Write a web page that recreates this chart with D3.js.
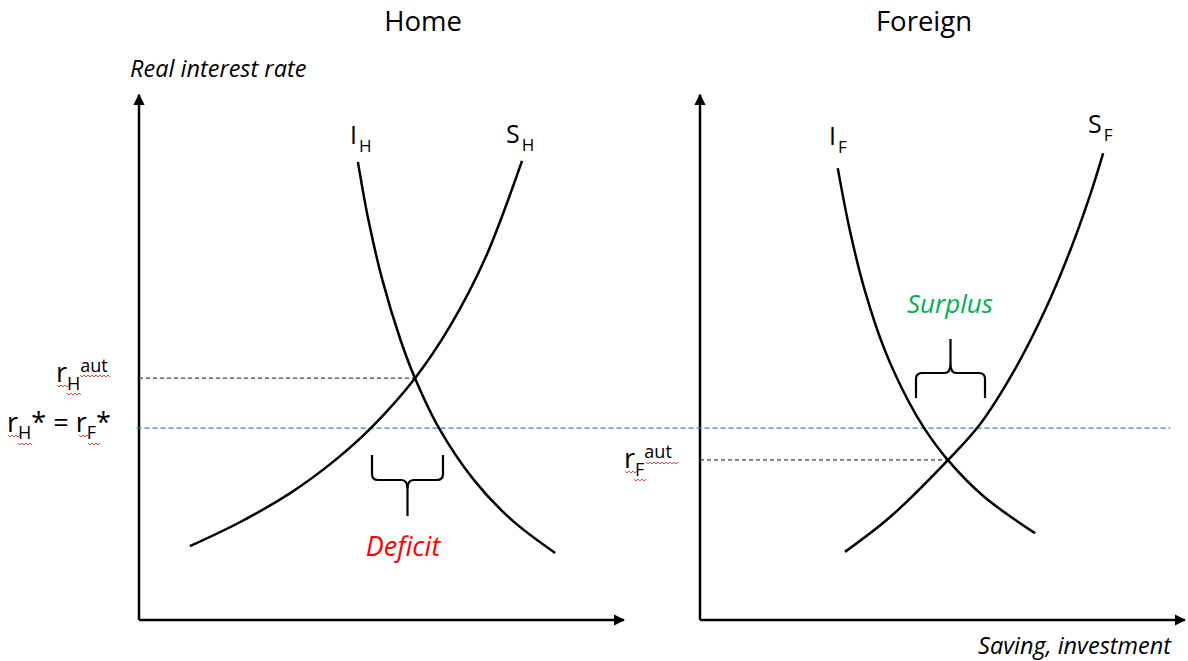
<!DOCTYPE html>
<html>
<head>
<meta charset="utf-8">
<script src="https://cdn.jsdelivr.net/npm/d3@7"></script>
<style>
  body { margin: 0; background: #fff; }
  text { font-family: "Open Sans", Lato, sans-serif; fill: #000; }
</style>
</head>
<body>
<div id="chart"></div>
<script>
// Curve points in panel units: q = saving/investment (0-100), r = real rate (0-100)
const homeInvestment = [[45.6, 88.1], [47.8, 76.9], [50.7, 65.4], [54.5, 53.8], [57.5, 46.5], [62.5, 36.9], [69.8, 26.9], [77.7, 19.2], [86.7, 12.9]];
const homeSaving = [[10.6, 14.2], [21.0, 18.8], [31.5, 24.4], [40.8, 30.7], [48.5, 37.1], [57.5, 46.5], [64.8, 56.5], [72.1, 69.5], [79.8, 88.3]];
const foreignInvestment = [[28.7, 86.9], [31.2, 75.0], [34.3, 63.5], [38.5, 51.9], [43.3, 42.3], [46.7, 36.9], [51.6, 30.8], [59.2, 23.7], [69.8, 16.7]];
const foreignSaving = [[30.2, 13.1], [39.6, 19.8], [51.7, 30.8], [58.3, 37.6], [65.6, 48.2], [71.9, 59.6], [77.1, 71.0], [81.3, 81.8], [84.0, 89.8]];

const rHomeAut = 46.5;     // Home autarky rate
const rWorld = 36.9;       // world rate r_H* = r_F*
const rForeignAut = 30.8;  // Foreign autarky rate
const qHomeAut = 57.5;     // where the Home curves cross
const qForeignAut = 51.7;  // where the Foreign curves cross

const panelTitles = ["Home", "Foreign"];
const curveLabels = [["I", "H"], ["S", "H"], ["I", "F"], ["S", "F"]];

const W = 1188, H = 661;
const svg = d3.select("#chart").append("svg").attr("width", W).attr("height", H);

svg.append("defs").append("marker")
    .attr("id", "arrow")
    .attr("viewBox", "0 0 10 10")
    .attr("refX", 9).attr("refY", 5)
    .attr("markerWidth", 4.5).attr("markerHeight", 4.5)
    .attr("orient", "auto")
    .append("path").attr("d", "M0,0 L10,5 L0,10 z").attr("fill", "#000");

// shared vertical scale, one horizontal scale per panel
const y = d3.scaleLinear().domain([0, 100]).range([620, 100]);
const xHome = d3.scaleLinear().domain([0, 100]).range([139, 619]);
const xForeign = d3.scaleLinear().domain([0, 100]).range([700, 1180]);

function drawAxes(x) {
    svg.append("path")
        .attr("d", `M${x(0)},${y(0)} L${x(0)},${y(101)}`)
        .attr("stroke", "#000").attr("stroke-width", 2.5).attr("fill", "none")
        .attr("marker-end", "url(#arrow)");
    svg.append("path")
        .attr("d", `M${x(0)},${y(0)} L${x(101)},${y(0)}`)
        .attr("stroke", "#000").attr("stroke-width", 2.5).attr("fill", "none")
        .attr("marker-end", "url(#arrow)");
}
drawAxes(xHome);
drawAxes(xForeign);

// dashed guide lines
svg.append("line")
    .attr("x1", xHome(0)).attr("x2", xHome(qHomeAut))
    .attr("y1", y(rHomeAut)).attr("y2", y(rHomeAut))
    .attr("stroke", "#404040").attr("stroke-width", 1.3).attr("stroke-dasharray", "4,3");
svg.append("line")
    .attr("x1", xForeign(0)).attr("x2", xForeign(qForeignAut))
    .attr("y1", y(rForeignAut)).attr("y2", y(rForeignAut))
    .attr("stroke", "#404040").attr("stroke-width", 1.3).attr("stroke-dasharray", "4,3");
svg.append("line")
    .attr("x1", xHome(-0.5)).attr("x2", xForeign(98))
    .attr("y1", y(rWorld)).attr("y2", y(rWorld))
    .attr("stroke", "#4472c4").attr("stroke-width", 1.3).attr("stroke-dasharray", "5,3");

// curves
function drawCurve(data, x) {
    const line = d3.line()
        .x(d => x(d[0]))
        .y(d => y(d[1]))
        .curve(d3.curveCatmullRom.alpha(0.5));
    svg.append("path")
        .datum(data)
        .attr("d", line)
        .attr("fill", "none")
        .attr("stroke", "#000")
        .attr("stroke-width", 2.5);
}
drawCurve(homeInvestment, xHome);
drawCurve(homeSaving, xHome);
drawCurve(foreignInvestment, xForeign);
drawCurve(foreignSaving, xForeign);

// titles
svg.append("text").attr("x", 423).attr("y", 31).attr("text-anchor", "middle")
    .attr("font-size", 27.5).text(panelTitles[0]);
svg.append("text").attr("x", 924).attr("y", 31).attr("text-anchor", "middle")
    .attr("font-size", 27.5).text(panelTitles[1]);

svg.append("text").attr("x", 130).attr("y", 77).attr("font-size", 23.5)
    .attr("font-style", "italic").text("Real interest rate");
svg.append("text").attr("x", 1171).attr("y", 654).attr("text-anchor", "end")
    .attr("font-size", 23.5).attr("font-style", "italic").text("Saving, investment");

// curve labels with subscripts
function subLabel(px, py, main, sub) {
    const t = svg.append("text").attr("x", px).attr("y", py).attr("font-size", 25);
    t.append("tspan").text(main);
    t.append("tspan").attr("dy", 8).attr("dx", 2).attr("font-size", 17).text(sub);
}
subLabel(350, 144, curveLabels[0][0], curveLabels[0][1]);
subLabel(506, 143, curveLabels[1][0], curveLabels[1][1]);
subLabel(829, 145, curveLabels[2][0], curveLabels[2][1]);
subLabel(1088, 133, curveLabels[3][0], curveLabels[3][1]);

// red spellcheck squiggle
function squiggle(x0, x1, yy) {
    let d = `M${x0},${yy}`;
    for (let xx = x0, i = 0; xx < x1; xx += 2, i++) {
        d += ` L${xx + 2},${yy + (i % 2 === 0 ? 2 : 0)}`;
    }
    svg.append("path").attr("d", d).attr("fill", "none")
        .attr("stroke", "#e03030").attr("stroke-width", 0.9);
}

// rate labels on the left
function autLabel(px, py, sub) {
    const t = svg.append("text").attr("x", px).attr("y", py).attr("font-size", 27);
    t.append("tspan").text("r");
    t.append("tspan").attr("dy", 8).attr("font-size", 18).text(sub);
    t.append("tspan").attr("dy", -18).attr("font-size", 18).text("aut");
}
autLabel(56, 382, "H");
squiggle(57, 68, 385); squiggle(67, 80, 393); squiggle(80, 110, 375);

const lab2 = svg.append("text").attr("x", 7).attr("y", 432).attr("font-size", 27);
lab2.append("tspan").text("r");
lab2.append("tspan").attr("dy", 7).attr("font-size", 18).text("H");
lab2.append("tspan").attr("dy", -7).text("* = r");
lab2.append("tspan").attr("dy", 7).attr("font-size", 18).text("F");
lab2.append("tspan").attr("dy", -7).text("*");
squiggle(8, 19, 435); squiggle(18, 32, 443); squiggle(79, 89, 435); squiggle(88, 100, 443);

autLabel(624, 468, "F");
squiggle(625, 636, 471); squiggle(634, 646, 479); squiggle(646, 677, 462);

// braces
function brace(x0, x1, yEnd, yBar, yTip, dir) {
    const xm = (x0 + x1) / 2, r = 6 * dir;
    const d = `M${x0},${yEnd} L${x0},${yBar - r} Q${x0},${yBar} ${x0 + 6},${yBar}` +
        ` L${xm - 6},${yBar} Q${xm},${yBar} ${xm},${yBar + r * 1.5} L${xm},${yTip}` +
        ` M${xm},${yBar + r * 1.5} Q${xm},${yBar} ${xm + 6},${yBar}` +
        ` L${x1 - 6},${yBar} Q${x1},${yBar} ${x1},${yBar - r} L${x1},${yEnd}`;
    svg.append("path").attr("d", d).attr("fill", "none")
        .attr("stroke", "#000").attr("stroke-width", 2.2);
}
brace(372, 443, 455, 480, 516, 1);
brace(916, 985, 398, 373, 339, -1);

svg.append("text").attr("x", 403).attr("y", 556).attr("text-anchor", "middle")
    .attr("font-size", 27).attr("font-style", "italic")
    .style("fill", "#ff0000").text("Deficit");
svg.append("text").attr("x", 950).attr("y", 313).attr("text-anchor", "middle")
    .attr("font-size", 26).attr("font-style", "italic")
    .style("fill", "#00b050").text("Surplus");
</script>
</body>
</html>
